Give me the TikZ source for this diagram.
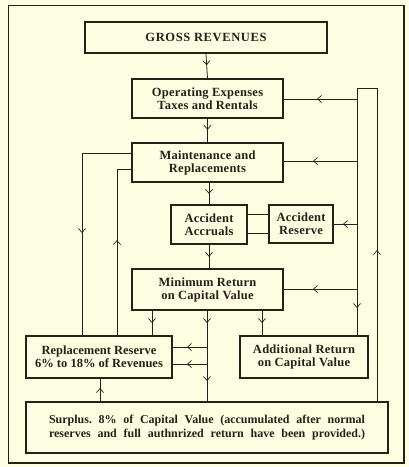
\documentclass[tikz,border=0pt]{standalone}
\usepackage{fontspec}
\setmainfont{Liberation Serif}
\usetikzlibrary{arrows.meta,decorations.markings}
\definecolor{bgc}{RGB}{253,253,226}
\definecolor{ink}{RGB}{40,32,24}
\frenchspacing
\begin{document}
\begin{tikzpicture}[x=1pt,y=-1pt,
  box/.style={draw=ink,line width=1.6pt,align=center,inner sep=0pt,
    font=\fontsize{12.5}{13}\selectfont\bfseries\addfontfeature{LetterSpace=2},text=ink},
  line/.style={draw=ink,line width=0.8pt},
  midarr/.style={postaction={decorate,decoration={markings,
    mark=at position #1pt with {\arrow{Straight Barb[length=4pt,width=7pt,line width=0.7pt]}}}}}
]
\fill[bgc] (0,0) rectangle (409,467);
\useasboundingbox (0,0) rectangle (409,467);
\draw[ink,line width=1.5pt] (8.5,5.5) rectangle (404,463);

\node[box,line width=2.4pt,minimum width=242pt,minimum height=31pt,font=\fontsize{12.5}{13}\selectfont\bfseries\addfontfeature{LetterSpace=5}] (gross) at (206,37.5) {GROSS REVENUES};
\node[box,minimum width=151pt,minimum height=39pt] (oper) at (207.5,98.5) {Operating Expenses\\Taxes and Rentals};
\node[box,minimum width=151pt,minimum height=39pt] (maint) at (207.5,162.5) {Maintenance and\\Replacements};
\node[box,minimum width=76pt,minimum height=39pt] (accr) at (209,224.5) {Accident\\Accruals};
\node[box,minimum width=64pt,minimum height=38pt] (ares) at (301,224) {Accident\\Reserve};
\node[box,minimum width=151pt,minimum height=41pt] (minr) at (207.5,289.5) {Minimum Return\\on Capital Value};
\node[box,minimum width=146pt,minimum height=42pt,font=\fontsize{12.5}{13}\selectfont\bfseries] (repl) at (99,357) {Replacement Reserve\\6\% to 18\% of Revenues};
\node[box,minimum width=128pt,minimum height=42pt] (addr) at (304,357) {Additional Return\\on Capital Value};
\node[box,minimum width=362pt,minimum height=51pt,font=\fontsize{12}{13.5}\selectfont\bfseries] (surp) at (207,427.5)
 {\makebox[316pt][s]{Surplus. 8\% of Capital Value (accumulated after normal}\\
  \makebox[316pt][s]{reserves and full authnrized return have been provided.)}};

% main spine
\draw[line,midarr=11] (gross.south) -- (oper.north);
\draw[line,midarr=11] (oper.south) -- (maint.north);
\draw[line,midarr=11] (maint.south -| accr.north) -- (accr.north);
\draw[line,midarr=12] (accr.south) -- (accr.south |- minr.north);

% from minimum return
\coordinate (mA) at (152,310);
\coordinate (mB) at (262,310);
\coordinate (mC) at (207,310);
\draw[line,midarr=13] (mA) -- (mA |- repl.north);
\draw[line,midarr=13] (mB) -- (mB |- addr.north);
\draw[line,midarr=13,midarr=71] (mC) -- (mC |- surp.north);
\coordinate (b1) at (207,347);
\coordinate (b2) at (207,364);
\draw[line,midarr=20] (b1) -- (b1 -| repl.east);
\draw[line,midarr=20] (b2) -- (b2 -| repl.east);

% accident links
\coordinate (a1) at (247,214);
\coordinate (a2) at (247,233);
\draw[line] (a1) -- (a1 -| ares.west);
\draw[line] (a2) -- (a2 -| ares.west);

% left loops
\coordinate (L1) at (132,153);
\coordinate (L1c) at (82,153);
\draw[line,midarr=130] (L1) -- (L1c) -- (L1c |- repl.north);
\coordinate (L2) at (117,336);
\coordinate (L2c) at (117,169);
\draw[line,midarr=96] (L2) -- (L2c) -- (L2c -| maint.west);
\coordinate (s1) at (100,402);
\draw[line,midarr=14] (s1) -- (s1 |- repl.south);

% right loop
\coordinate (R0) at (377,402);
\coordinate (R1) at (377,88);
\coordinate (R2) at (357,88);
\coordinate (R3) at (357,336);
\draw[line,midarr=152,midarr=554] (R0) -- (R1) -- (R2) -- (R3);
\coordinate (r1) at (357,99);
\coordinate (r2) at (357,161);
\coordinate (r3) at (357,224);
\coordinate (r4) at (357,289);
\draw[line,midarr=40] (r1) -- (r1 -| oper.east);
\draw[line,midarr=44] (r2) -- (r2 -| maint.east);
\draw[line,midarr=14] (r3) -- (r3 -| ares.east);
\draw[line,midarr=44] (r4) -- (r4 -| minr.east);
\end{tikzpicture}
\end{document}
